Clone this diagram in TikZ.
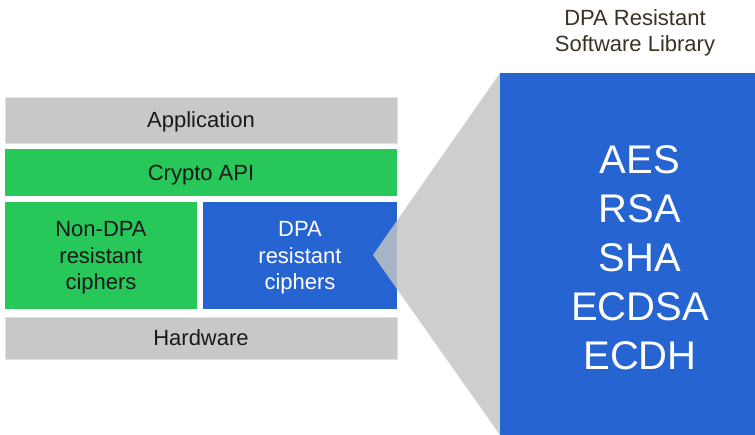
\documentclass[tikz,border=0pt]{standalone}
\usepackage{fontspec}
\setmainfont{Liberation Sans}
\usepackage{tikz}
\usetikzlibrary{positioning}
\definecolor{layergray}{HTML}{C8C8C8}
\definecolor{layergreen}{HTML}{28C75A}
\definecolor{layerblue}{HTML}{2664D2}
\definecolor{zoomgray}{HTML}{C4C4C4}
\definecolor{titletext}{HTML}{3A3222}
\tikzset{
    layer/.style={inner sep=0pt, outer sep=0pt, align=center, text=black!90, text depth=0pt,
        font=\fontsize{22}{26.5}\selectfont},
    graylayer/.style={layer, fill=layergray, draw=black!12, line width=0.8pt},
    greenlayer/.style={layer, fill=layergreen},
    bluelayer/.style={layer, fill=layerblue, text=white},
}

\begin{document}
\begin{tikzpicture}[x=1pt, y=-1pt]
                \useasboundingbox (0, 0) rectangle (755, 435);
                \node[graylayer, minimum width=392, minimum height=46] (app) at (201, 120) {Application};
                \node[greenlayer, minimum width=392, minimum height=47] (api) at (201, 172.5) {Crypto API};
                \node[greenlayer, minimum width=192, minimum height=107] (nondpa) at (101, 255.5) {Non-DPA\\resistant\\ciphers};
                \node[bluelayer, minimum width=194, minimum height=107] (dpa) at (300, 255.5) {DPA\\resistant\\ciphers};
                \node[graylayer, minimum width=392, minimum height=42] (hw) at (201, 338) {Hardware};
                \coordinate (apex) at (373, 255);
                \node[bluelayer, minimum width=255, minimum height=362] (lib) at (627.5, 254) {};
                \fill[zoomgray, opacity=0.83] (apex) -- (lib.north west) -- (lib.south west) -- cycle;
                \node[bluelayer, minimum width=255, minimum height=362] at (lib) {};
                \node[align=center, text=white, font=\fontsize{40}{49}\selectfont] (algos) at (640, 258) {AES\\RSA\\SHA\\ECDSA\\ECDH};
                \node[align=center, text=titletext, font=\fontsize{22}{26}\selectfont] (title) at (635, 33) {DPA Resistant\\Software Library};
            \end{tikzpicture}
\end{document}
